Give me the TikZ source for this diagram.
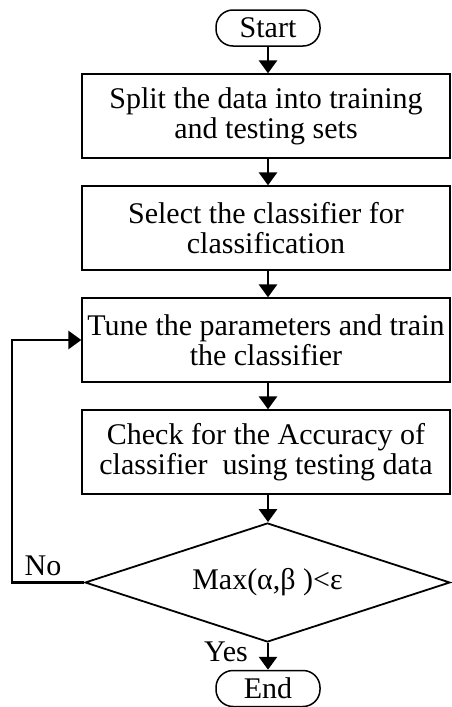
\documentclass[tikz,border=0pt]{standalone}
\usepackage{fontspec}
\setmainfont{Liberation Serif}
\usetikzlibrary{arrows.meta,shapes.geometric}
\begin{document}
\begin{tikzpicture}[x=1pt,y=-1pt,
  every node/.style={font=\fontsize{30}{30}\selectfont},
  term/.style={draw,line width=1.5pt,rounded corners=17pt,minimum width=104pt,minimum height=36pt,inner sep=0pt},
  procbox/.style={draw,line width=1.3pt,minimum width=368pt,minimum height=84pt,inner sep=0pt,align=center},
  decide/.style={draw,line width=1.8pt,shape=diamond,aspect=3.07,minimum width=365pt,minimum height=119pt,inner sep=0pt},
  flow/.style={line width=2.8pt,-{Triangle[width=18pt,length=13pt]}},
  lbl/.style={inner sep=0pt}]
\useasboundingbox (0,0) rectangle (451,707);
\node[term] (start) at (268,28) {Start};
\node[procbox] (b1) at (266,116) {Split the data into training\\and testing sets};
\node[procbox] (b2) at (266,228) {Select the classifier for\\classification};
\node[procbox] (b3) at (266,340) {Tune the parameters and train\\the classifier};
\node[procbox] (b4) at (266,452) {Check for the Accuracy of\\classifier\ \ using testing data};
\node[decide] (d) at (267.5,582.5) {Max(α,β )<ε};
\node[term] (end) at (268,688.5) {End};
\coordinate (c1) at (12,582.5);
\coordinate (c2) at (12,340);
\draw[flow] (start.south -| 268,0) -- (b1.north -| 268,0);
\draw[flow] (b1.south -| 268,0) -- (b2.north -| 268,0);
\draw[flow] (b2.south -| 268,0) -- (b3.north -| 268,0);
\draw[flow] (b3.south -| 268,0) -- (b4.north -| 268,0);
\draw[flow] (b4.south -| 268,0) -- (d.north -| 268,0);
\draw[flow] (d.south -| 268,0) -- (end.north -| 268,0);
\draw[flow] (d.west) -- (c1) -- (c2) -- (b3.west);
\node[lbl] (no) at (43,566) {No};
\node[lbl] (yes) at (226,652) {Yes};
\end{tikzpicture}
\end{document}
